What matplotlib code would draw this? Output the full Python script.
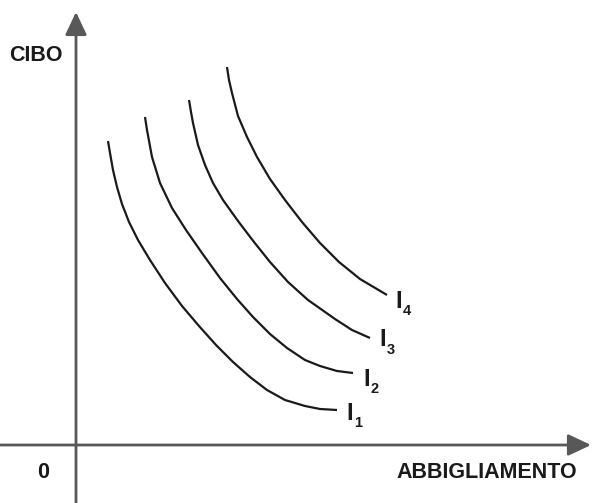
import matplotlib.pyplot as plt

# curves, in pixel units (x right, y down)
i1_x = [108, 110, 113, 117, 122, 129, 138, 150, 165, 182, 199, 216, 233, 250, 267, 285, 305, 320, 337]
i1_y = [141, 153, 170, 187, 204, 222, 240, 260, 283, 306, 326, 345, 362, 377, 390, 400, 406, 409, 410]

i2_x = [145, 147, 152, 160, 172, 186, 202, 220, 237, 253, 270, 287, 305, 320, 337, 353]
i2_y = [117, 130, 157, 183, 208, 230, 253, 278, 299, 317, 334, 348, 360, 366, 371, 373]

i3_x = [189, 191, 193, 198, 205, 213, 223, 238, 254, 270, 288, 308, 335, 352, 370]
i3_y = [100, 112, 123, 145, 165, 183, 200, 221, 242, 262, 282, 300, 319, 330, 338]

i4_x = [227, 229, 232, 238, 247, 257, 270, 285, 302, 320, 339, 360, 387]
i4_y = [67, 80, 93, 116, 137, 157, 179, 200, 222, 243, 262, 279, 295]

curves = [(i1_x, i1_y), (i2_x, i2_y), (i3_x, i3_y), (i4_x, i4_y)]
curve_names = ["1", "2", "3", "4"]
label_pos = [(350, 413), (367, 379), (383, 340), (399, 301)]

fig = plt.figure(figsize=(5.92, 5.03), dpi=100)
ax = fig.add_axes([0, 0, 1, 1])
ax.set_xlim(0, 592)
ax.set_ylim(503, 0)
ax.axis("off")

axis_col = "#585858"
arrow = dict(arrowstyle="-|>,head_length=14,head_width=6.6", mutation_scale=1,
             color=axis_col, lw=2, shrinkA=0, shrinkB=0)
ax.annotate("", xy=(76, 12), xytext=(76, 503), arrowprops=arrow)
ax.annotate("", xy=(591, 445), xytext=(0, 445), arrowprops=arrow)

for (xs, ys) in curves:
    ax.plot(xs, ys, color="#1a1a1a", lw=1.6, solid_capstyle="butt",
            solid_joinstyle="round")

for name, (lx, ly) in zip(curve_names, label_pos):
    ax.text(lx, ly, "I", fontsize=17, fontweight="bold", color="#1a1a1a",
            ha="center", va="center", family="Liberation Sans")
    ax.text(lx + 8, ly + 10, name, fontsize=10.5, fontweight="bold", color="#1a1a1a",
            ha="center", va="center", family="Liberation Sans")

font = dict(fontsize=15.5, fontweight="bold", color="#1a1a1a", family="Liberation Sans")
ax.text(36, 55, "CIBO", ha="center", va="center", **font)
ax.text(43, 472, "0", ha="center", va="center", **font)
ax.text(577, 472, "ABBIGLIAMENTO", ha="right", va="center", **font)

fig.savefig("out.png", dpi=100)
